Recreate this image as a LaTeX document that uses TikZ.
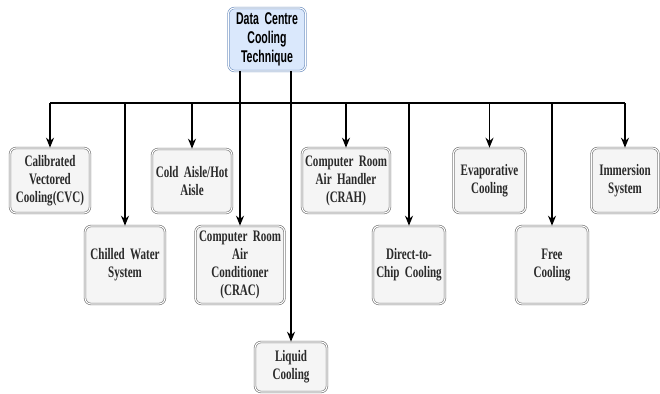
\documentclass[tikz,border=0pt]{standalone}
\usepackage{fontspec}
\usetikzlibrary{arrows.meta}
\newfontfamily\techfont[FakeStretch=0.69]{Liberation Serif}
\newfontfamily\rootfont[FakeStretch=0.62]{Liberation Sans}
\definecolor{rootfill}{HTML}{DAE8FC}
\definecolor{rootdraw}{HTML}{6C8EBF}
\definecolor{techfill}{HTML}{F5F5F5}
\definecolor{techdraw}{HTML}{707070}
\definecolor{techtext}{HTML}{2A2A2A}

\begin{document}
\begin{tikzpicture}[x=1pt, y=-1pt,
  tech/.style={draw=techdraw, line width=0.6pt, double=white, double distance=1.1pt,
    fill=techfill, rounded corners=6pt, inner xsep=0pt, inner ysep=0pt, align=center,
    text=techtext, font=\techfont\bfseries\fontsize{16}{18}\selectfont},
  root/.style={tech, draw=rootdraw, fill=rootfill, text=black,
    font=\rootfont\bfseries\fontsize{17}{19}\selectfont},
  arr/.style={line width=1.5pt, -{Stealth[length=10pt, width=8pt]}}]
\useasboundingbox (0,0) rectangle (660,393);
\node[root, text width=77pt, minimum height=63pt] (root) at (267,39.5) {Data Centre\\Cooling\\Technique};
\node[tech, text width=80pt, minimum height=65pt] (cvc) at (50,180.5) {Calibrated\\Vectored\\Cooling(CVC)};
\node[tech, text width=80pt, minimum height=64pt] (cold) at (192,181) {Cold Aisle/Hot\\Aisle};
\node[tech, text width=88pt, minimum height=65pt] (crah) at (346,180.5) {Computer Room\\Air Handler\\(CRAH)};
\node[tech, text width=72pt, minimum height=65pt] (evap) at (489.5,180.5) {Evaporative\\Cooling};
\node[tech, text width=67pt, minimum height=65pt] (imm) at (625,180.5) {Immersion\\System};
\node[tech, text width=80pt, minimum height=78pt] (chw) at (125,265) {Chilled Water\\System};
\node[tech, text width=89pt, minimum height=78pt] (crac) at (240,265) {Computer Room\\Air\\Conditioner\\(CRAC)};
\node[tech, text width=72pt, minimum height=78pt] (dtc) at (409,265) {Direct-to-\\Chip Cooling};
\node[tech, text width=72pt, minimum height=78pt] (free) at (552,265) {Free\\Cooling};
\node[tech, text width=72pt, minimum height=50pt] (liquid) at (291,367) {Liquid\\Cooling};
\coordinate (bus) at (0,103);
\draw[line width=1.6pt] (cvc.north |- bus) -- (imm.north |- bus);
\foreach \n in {cvc, chw, cold, crah, dtc, evap, free, imm}
  \draw[arr] (\n.north |- bus) -- (\n);
\draw[arr] (root.south -| crac.north) -- (crac);
\draw[arr] (root.south -| liquid.north) -- (liquid);
\end{tikzpicture}
\end{document}
